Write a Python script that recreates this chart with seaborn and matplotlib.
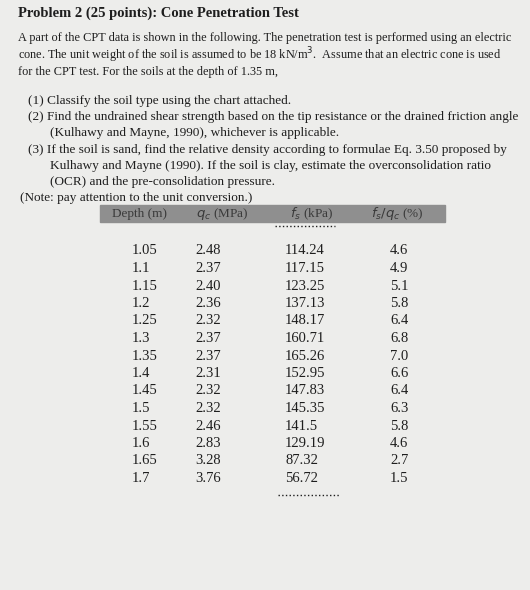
import matplotlib
matplotlib.use("Agg")
import matplotlib.pyplot as plt
import seaborn as sns

depth = ["1.05", "1.1", "1.15", "1.2", "1.25", "1.3", "1.35", "1.4", "1.45", "1.5", "1.55", "1.6", "1.65", "1.7"]
qc = ["2.48", "2.37", "2.40", "2.36", "2.32", "2.37", "2.37", "2.31", "2.32", "2.32", "2.46", "2.83", "3.28", "3.76"]
fs = ["114.24", "117.15", "123.25", "137.13", "148.17", "160.71", "165.26", "152.95", "147.83", "145.35", "141.5", "129.19", "87.32", "56.72"]
ratio = ["4.6", "4.9", "5.1", "5.8", "6.4", "6.8", "7.0", "6.6", "6.4", "6.3", "5.8", "4.6", "2.7", "1.5"]

sns.set_theme(style="white")
plt.rcParams['font.family'] = ['Liberation Serif', 'DejaVu Serif']

fig = plt.figure(figsize=(5.3, 5.9), dpi=100)
fig.patch.set_facecolor("#ededeb")
ax = fig.add_axes([0, 0, 1, 1])
ax.set_facecolor("#ededeb")
ax.set_xlim(0, 530)
ax.set_ylim(590, 0)
ax.axis("off")

ink = "#1e1e1e"
fz = 8.8
ax.text(18, 13, "Problem 2 (25 points): Cone Penetration Test", fontsize=10.5, fontweight="bold", color=ink, va="center")
para = [
    "A part of the CPT data is shown in the following. The penetration test is performed using an electric",
    "cone. The unit weight of the soil is assumed to be 18 kN/m$^3$.  Assume that an electric cone is used",
    "for the CPT test. For the soils at the depth of 1.35 m,",
]
for i, line in enumerate(para):
    ax.text(18, 38 + i * 17, line, fontsize=fz, color=ink, va="center")

items = [
    (28, 101, "(1) Classify the soil type using the chart attached."),
    (28, 117, "(2) Find the undrained shear strength based on the tip resistance or the drained friction angle"),
    (50, 133, "(Kulhawy and Mayne, 1990), whichever is applicable."),
    (28, 150, "(3) If the soil is sand, find the relative density according to formulae Eq. 3.50 proposed by"),
    (50, 166, "Kulhawy and Mayne (1990). If the soil is clay, estimate the overconsolidation ratio"),
    (50, 182, "(OCR) and the pre-consolidation pressure."),
    (20, 198, "(Note: pay attention to the unit conversion.)"),
]
for x, y, t in items:
    ax.text(x, y, t, fontsize=9.5, color=ink, va="center")

# header band
ax.add_patch(plt.Rectangle((100, 205), 345, 17, color="#8f8f8f", zorder=1))
hdr = [(140, "Depth (m)"), (222, "$q_c$ (MPa)"), (312, "$f_s$ (kPa)"), (397, "$f_s/q_c$ (%)")]
for x, t in hdr:
    ax.text(x, 213.5, t, fontsize=9.5, color="#3a3a3a", va="center", ha="center", zorder=2)
ax.plot([275, 335], [226, 226], ls=":", color=ink, lw=1)
ax.plot([278, 340], [495, 495], ls=":", color=ink, lw=1)

for i in range(len(depth)):
    y = 251 + i * 17.5
    ax.text(132, y, depth[i], fontsize=10.5, color=ink, va="center", ha="left")
    ax.text(195, y, qc[i], fontsize=10.5, color=ink, va="center", ha="left")
    ax.text(285, y, fs[i], fontsize=10.5, color=ink, va="center", ha="left")
    ax.text(390, y, ratio[i], fontsize=10.5, color=ink, va="center", ha="left")

fig.savefig("out.png", dpi=100, facecolor=fig.get_facecolor())
